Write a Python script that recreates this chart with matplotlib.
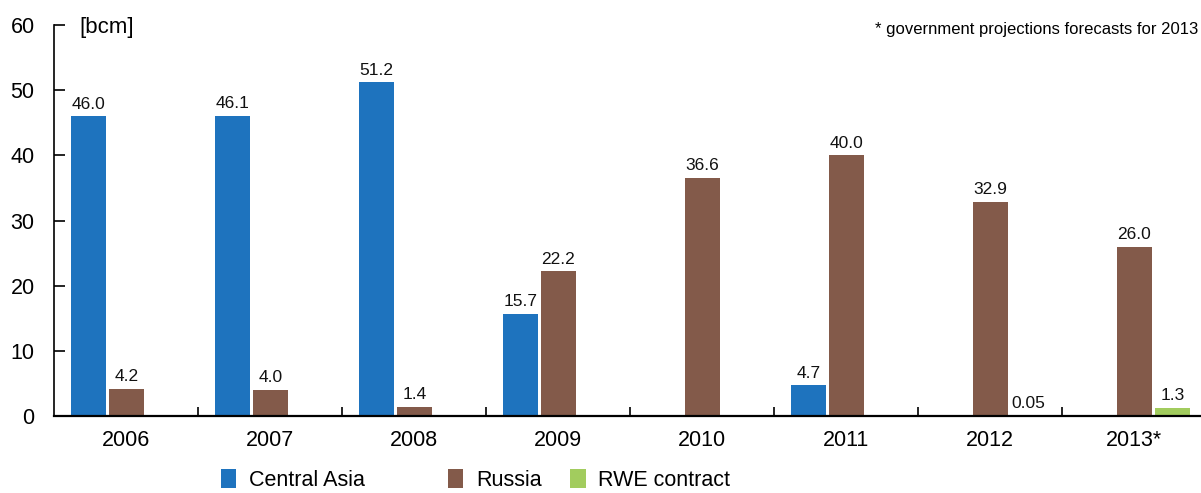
import numpy as np
import matplotlib
matplotlib.use("Agg")
import matplotlib.pyplot as plt
from matplotlib.ticker import FixedLocator

years = ["2006", "2007", "2008", "2009", "2010", "2011", "2012", "2013*"]
central_asia = [46.0, 46.1, 51.2, 15.7, np.nan, 4.7, np.nan, np.nan]
russia = [4.2, 4.0, 1.4, 22.2, 36.6, 40.0, 32.9, 26.0]
rwe = [np.nan, np.nan, np.nan, np.nan, np.nan, np.nan, 0.05, 1.3]
ca_labels = ["46.0", "46.1", "51.2", "15.7", "", "4.7", "", ""]
ru_labels = ["4.2", "4.0", "1.4", "22.2", "36.6", "40.0", "32.9", "26.0"]
rwe_labels = ["", "", "", "", "", "", "0.05", "1.3"]

plt.rcParams['font.family'] = ['Liberation Sans', 'DejaVu Sans']

fig = plt.figure(figsize=(12.01, 4.93), dpi=100)
ax = fig.add_axes([0.045, 0.156, 0.955, 0.793])

x = np.arange(len(years))
w = 0.243
series = [
    (central_asia, ca_labels, -0.262, "#1e73be", "Central Asia"),
    (russia, ru_labels, 0.003, "#835a4a", "Russia"),
    (rwe, rwe_labels, 0.268, "#a2cc5e", "RWE contract"),
]
handles = []
for vals, labs, off, col, name in series:
    b = ax.bar(x + off, vals, width=w, color=col, label=name)
    handles.append(b)
    for xi, v, lab in zip(x, vals, labs):
        if lab:
            ax.text(xi + off, v + 0.7, lab, ha="center", va="bottom",
                    fontsize=12.5, color="#111111")

ax.set_xlim(-0.5, 7.465)
ax.set_ylim(0, 60)
ax.set_yticks(range(0, 61, 10))
ax.set_xticks(x)
ax.set_xticklabels(years)
ax.xaxis.set_minor_locator(FixedLocator(np.arange(0.5, 7.0, 1.0)))

ax.tick_params(axis="y", direction="in", length=8, width=1.2, pad=14,
               labelsize=15.5)
ax.tick_params(axis="x", which="major", length=0, pad=10, labelsize=15.5)
ax.tick_params(axis="x", which="minor", direction="in", length=6.5,
               width=1.2)

for s in ["top", "right"]:
    ax.spines[s].set_visible(False)
ax.spines["left"].set_linewidth(1.2)
ax.spines["bottom"].set_linewidth(1.6)

ax.text(0.022, 0.995, "[bcm]", transform=ax.transAxes, fontsize=16,
        ha="left", va="center")
fig.text(0.998, 0.941, "* government projections forecasts for 2013",
         fontsize=12, ha="right", va="center")

legend_x = [0.184, 0.373, 0.475]
for h, lx in zip(handles, legend_x):
    fig.legend(handles=[h], loc="center left", bbox_to_anchor=(lx, 0.026),
               frameon=False, fontsize=15.5, handlelength=0.7,
               handleheight=1.0, handletextpad=0.6, borderpad=0,
               borderaxespad=0)

fig.savefig("out.png", dpi=100)
